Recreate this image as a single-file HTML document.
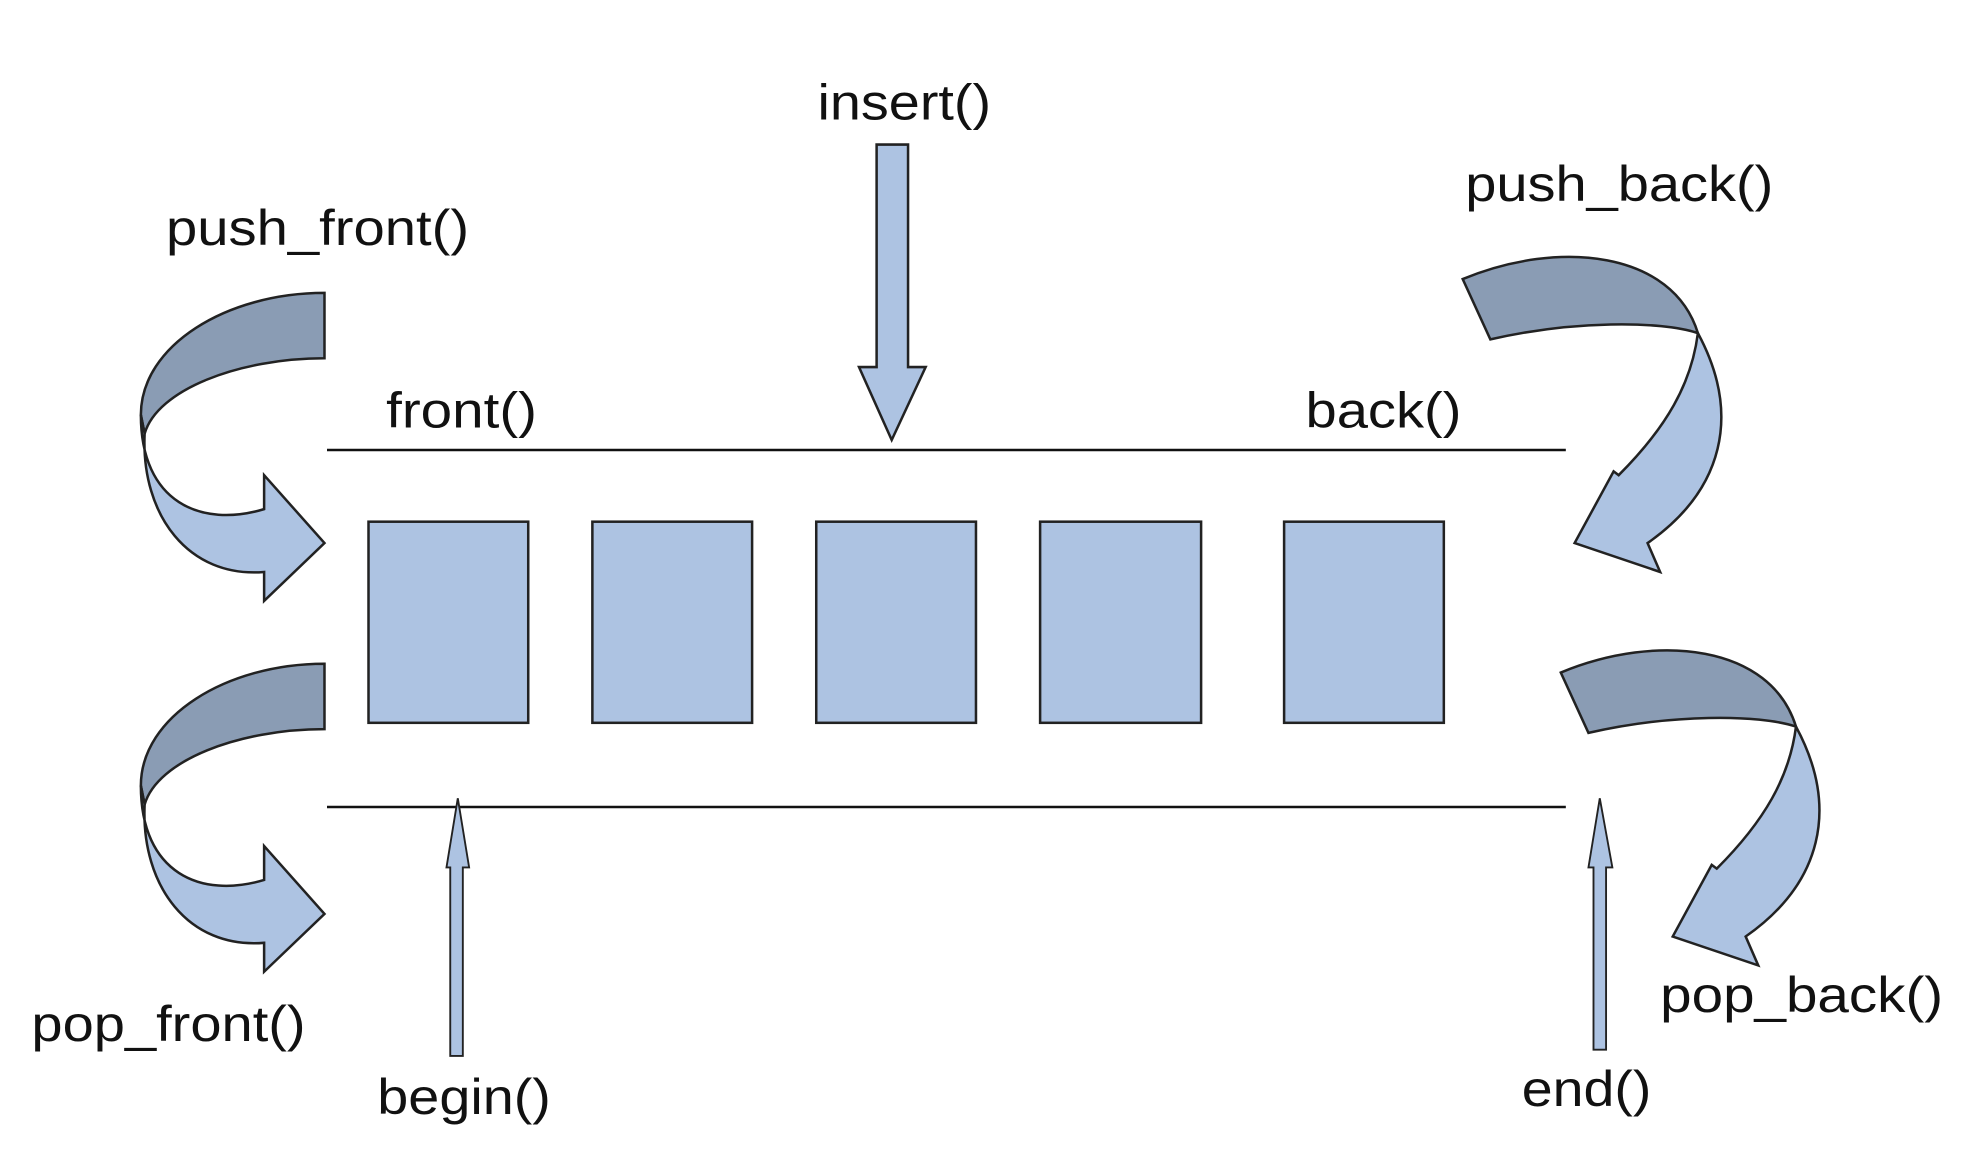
<!DOCTYPE html>
<html><head><style>html,body{margin:0;padding:0;background:#fff}svg{display:block}</style></head>
<body>
<svg width="1962" height="1154" viewBox="0 0 1560 918" preserveAspectRatio="none" xmlns="http://www.w3.org/2000/svg">
<g font-family="Liberation Sans, Arial, sans-serif" font-size="40" fill="#111">
<text x="650" y="95" textLength="138" lengthAdjust="spacingAndGlyphs">insert()</text>
<text x="132" y="195" textLength="241" lengthAdjust="spacingAndGlyphs">push_front()</text>
<text x="1165" y="160" textLength="245" lengthAdjust="spacingAndGlyphs">push_back()</text>
<text x="307" y="340" textLength="120" lengthAdjust="spacingAndGlyphs">front()</text>
<text x="1038" y="340" textLength="124" lengthAdjust="spacingAndGlyphs">back()</text>
<text x="25" y="828" textLength="218" lengthAdjust="spacingAndGlyphs">pop_front()</text>
<text x="300" y="886" textLength="138" lengthAdjust="spacingAndGlyphs">begin()</text>
<text x="1210" y="880" textLength="103" lengthAdjust="spacingAndGlyphs">end()</text>
<text x="1320" y="805" textLength="225" lengthAdjust="spacingAndGlyphs">pop_back()</text>
</g>
<g stroke="#111" stroke-width="2">
<line x1="260" y1="358" x2="1245" y2="358"/>
<line x1="260" y1="642" x2="1245" y2="642"/>
</g>
<g fill="#adc3e2" stroke="#222" stroke-width="2">
<rect x="293" y="415" width="127" height="160"/>
<rect x="471" y="415" width="127" height="160"/>
<rect x="649" y="415" width="127" height="160"/>
<rect x="827" y="415" width="128" height="160"/>
<rect x="1021" y="415" width="127" height="160"/>
<path d="M697,115 L722,115 L722,292 L736,292 L709,350 L683,292 L697,292 Z"/>
<path d="M358,840 L368,840 L368,690 L373,690 L364,635 L355,690 L358,690 Z" stroke-width="1.5"/>
<path d="M1267,835 L1277,835 L1277,690 L1282,690 L1272,635 L1263,690 L1267,690 Z" stroke-width="1.5"/>
</g>
<g id="lf" stroke="#222" stroke-width="2">
<path fill="#8a9cb4" d="M258,233 C180,233 112,275 112,330 L115,345 C125,310 190,285 258,285 Z"/>
<path fill="#adc3e2" d="M112,330 C112,400 160,420 210,405 L210,378 L258,432 L210,478 L210,455 C150,460 112,410 115,345 Z"/>
</g>
<use href="#lf" transform="translate(0,295)"/>
<g id="rt" stroke="#222" stroke-width="2">
<path fill="#8a9cb4" d="M1163,222 C1240,190 1330,200 1350,265 C1320,255 1250,255 1185,270 Z"/>
<path fill="#adc3e2" d="M1350,265 C1385,330 1370,390 1310,432 L1320,455 L1252,432 L1283,375 L1287,378 C1325,340 1345,305 1350,265 Z"/>
</g>
<use href="#rt" transform="translate(78,313)"/>
</svg>
</body></html>
